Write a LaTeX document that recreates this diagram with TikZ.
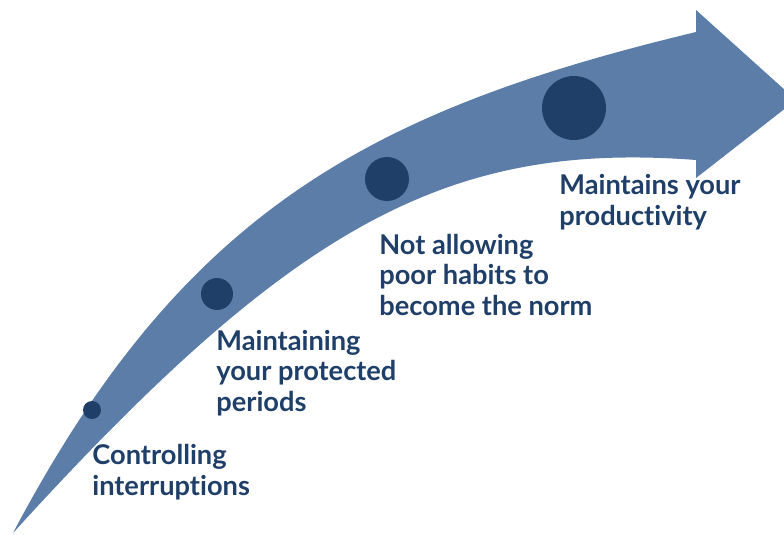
\documentclass[tikz,border=0pt]{standalone}
\usepackage{fontspec}
\setmainfont{Lato}[Ligatures=CommonOff]
\definecolor{band}{HTML}{5B7DA8}
\definecolor{deep}{HTML}{1F3F69}
\tikzset{
dot/.style={circle,fill=deep,inner sep=0pt},
lbl/.style={anchor=base west,align=left,text=deep,inner sep=0pt,
  font=\fontsize{15.5}{17.1}\selectfont\bfseries}
}
\begin{document}
\begin{tikzpicture}[x=0.02cm,y=-0.02cm]
\useasboundingbox (0,0) rectangle (784,534);
\clip (0,0) rectangle (784,534);

%%%% arrow
%%%%
\fill[band] (13,533) .. controls (182,213) and (367,111) .. (696,32)
  -- (696,10) -- (796,100) -- (696,178) -- (696,160)
  .. controls (447,141) and (293,225) .. (13,533) -- cycle;

%%%% dots
%%%%
\foreach[count=\i] \x \y \d in{
92/410/0.36cm,217/294/0.64cm,387/179/0.88cm,574/108/1.28cm%
}{
\node[dot,minimum size=\d](c\i) at(\x,\y) {};
}

%%%% texts
%%%%
\node[lbl](t1) at(92,495) {Controlling\\interruptions};
\node[lbl](t2) at(216,411) {Maintaining\\your protected\\periods};
\node[lbl](t3) at(379,315) {Not allowing\\poor habits to\\become the norm};
\node[lbl](t4) at(559,225) {Maintains your\\productivity};

\end{tikzpicture}
\end{document}
